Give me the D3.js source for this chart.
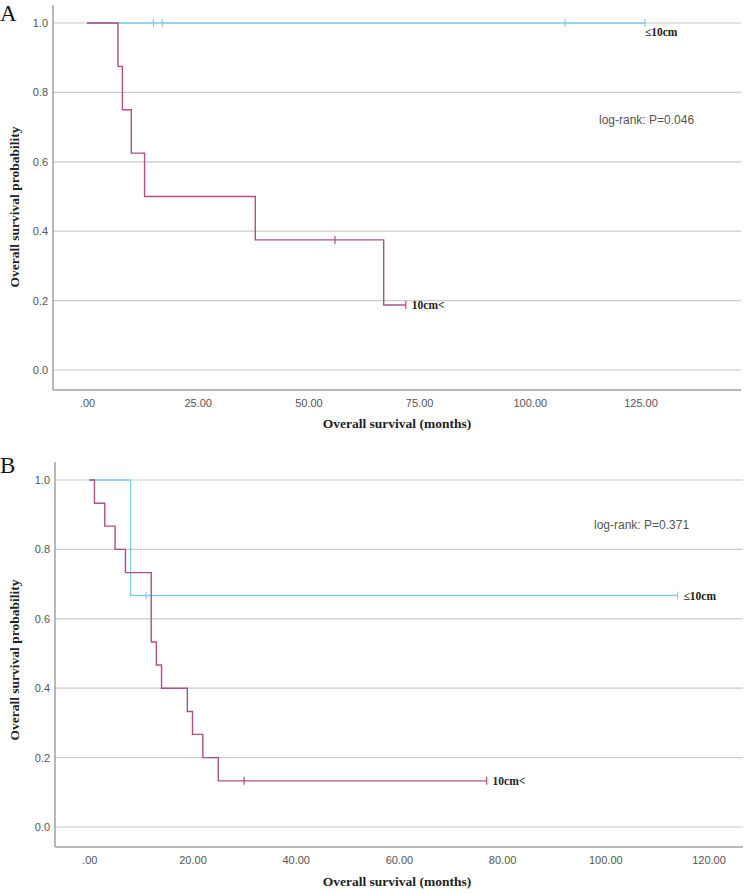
<!DOCTYPE html>
<html>
<head>
<meta charset="utf-8">
<script src="https://cdn.jsdelivr.net/npm/d3@7"></script>
<style>
  html, body { margin: 0; padding: 0; background: #fff; }
  svg { display: block; }
</style>
</head>
<body>
<svg id="chart" width="750" height="893"></svg>
<script>
// ---------------- Data ----------------
const yTicks = [0, 0.2, 0.4, 0.6, 0.8, 1.0];

// Panel A
const A_xTicks = [0, 25, 50, 75, 100, 125];
const A_large_time = [0, 7, 8, 10, 13, 38, 67, 72];
const A_large_surv = [1, 0.875, 0.75, 0.625, 0.5, 0.375, 0.1875, 0.1875];
const A_large_censor = [56, 72];
const A_small_time = [0, 126];
const A_small_surv = [1, 1];
const A_small_censor = [15, 17, 108, 126];
const A_pvalue = "log-rank: P=0.046";

// Panel B
const B_xTicks = [0, 20, 40, 60, 80, 100, 120];
const B_large_time = [0, 1, 3, 5, 7, 12, 13, 14, 19, 20, 22, 25, 77];
const B_large_surv = [1, 0.933, 0.867, 0.8, 0.733, 0.533, 0.467, 0.4, 0.333, 0.267, 0.2, 0.133, 0.133];
const B_large_censor = [30, 77];
const B_small_time = [0, 8, 114];
const B_small_surv = [1, 0.667, 0.667];
const B_small_censor = [11, 114];
const B_pvalue = "log-rank: P=0.371";

const labelSmall = "≤10cm";
const labelLarge = "10cm<";

const colSmall = "#84cceb";
const colLarge = "#ab5186";

const svg = d3.select("#chart");

function drawPanel(cfg) {
  const g = svg.append("g");
  const x = d3.scaleLinear().domain(cfg.xDomain).range(cfg.xRange);
  const y = d3.scaleLinear().domain([0, 1]).range(cfg.yRange);
  const left = cfg.axisLeft, right = cfg.axisRight, top = cfg.axisTop, bottom = cfg.axisBottom;

  // gridlines
  g.selectAll(".grid").data(yTicks).enter().append("line")
    .attr("x1", left).attr("x2", right)
    .attr("y1", d => y(d)).attr("y2", d => y(d))
    .attr("stroke", "#c9c9cf").attr("stroke-width", 1.2);

  // axis lines
  g.append("line").attr("x1", left).attr("x2", left).attr("y1", top).attr("y2", bottom)
    .attr("stroke", "#a0a0a0").attr("stroke-width", 1.5);
  g.append("line").attr("x1", left).attr("x2", right).attr("y1", bottom).attr("y2", bottom)
    .attr("stroke", "#a0a0a0").attr("stroke-width", 1.5);

  // y tick labels via d3 axis
  const yAxis = d3.axisLeft(y).tickValues(yTicks).tickFormat(d3.format(".1f")).tickSize(0).tickPadding(5);
  const ya = g.append("g").attr("transform", `translate(${left},0)`).call(yAxis);
  ya.select(".domain").remove();
  ya.selectAll("text").attr("font-family", "Liberation Sans, Arial, sans-serif")
    .attr("font-size", 11).attr("fill", "#555");

  // x tick labels
  const xAxis = d3.axisBottom(x).tickValues(cfg.xTicks)
    .tickFormat(d => d === 0 ? ".00" : d.toFixed(2)).tickSize(0).tickPadding(9);
  const xa = g.append("g").attr("transform", `translate(0,${bottom})`).call(xAxis);
  xa.select(".domain").remove();
  xa.selectAll("text").attr("font-family", "Liberation Sans, Arial, sans-serif")
    .attr("font-size", 11).attr("fill", "#555");

  const line = d3.line().x(d => x(d[0])).y(d => y(d[1])).curve(d3.curveStepAfter);

  function drawCurve(times, surv, censor, color) {
    const pts = times.map((t, i) => [t, surv[i]]);
    g.append("path").datum(pts).attr("d", line)
      .attr("fill", "none").attr("stroke", color).attr("stroke-width", 1.4);
    const survAt = t => {
      let s = 1;
      for (let i = 0; i < times.length; i++) if (times[i] <= t) s = surv[i];
      return s;
    };
    g.selectAll(null).data(censor).enter().append("line")
      .attr("x1", d => x(d)).attr("x2", d => x(d))
      .attr("y1", d => y(survAt(d)) - 4).attr("y2", d => y(survAt(d)) + 4)
      .attr("stroke", color).attr("stroke-width", 1.2);
  }

  drawCurve(cfg.small.time, cfg.small.surv, cfg.small.censor, colSmall);
  drawCurve(cfg.large.time, cfg.large.surv, cfg.large.censor, colLarge);

  // curve labels
  const lastSmall = cfg.small.time[cfg.small.time.length - 1];
  const lastLarge = cfg.large.time[cfg.large.time.length - 1];
  g.append("text").attr("x", x(lastSmall) + cfg.smallLabelDx).attr("y", y(cfg.small.surv[cfg.small.surv.length - 1]) + cfg.smallLabelDy)
    .attr("font-family", "Liberation Serif, Times New Roman, serif").attr("font-weight", "bold")
    .attr("font-size", 11.5).attr("fill", "#222").text(labelSmall);
  g.append("text").attr("x", x(lastLarge) + 6).attr("y", y(cfg.large.surv[cfg.large.surv.length - 1]) + 4.5)
    .attr("font-family", "Liberation Serif, Times New Roman, serif").attr("font-weight", "bold")
    .attr("font-size", 11.5).attr("fill", "#222").text(labelLarge);

  // p-value
  g.append("text").attr("x", cfg.pX).attr("y", cfg.pY)
    .attr("font-family", "Liberation Sans, Arial, sans-serif").attr("font-size", 12)
    .attr("fill", "#555").text(cfg.pvalue);

  // axis titles
  g.append("text").attr("x", 397).attr("y", cfg.xTitleY).attr("text-anchor", "middle")
    .attr("font-family", "Liberation Serif, Times New Roman, serif").attr("font-weight", "bold")
    .attr("font-size", 13.5).attr("fill", "#222").text("Overall survival (months)");
  g.append("text").attr("transform", `translate(19,${cfg.yTitleY}) rotate(-90)`).attr("text-anchor", "middle")
    .attr("font-family", "Liberation Serif, Times New Roman, serif").attr("font-weight", "bold")
    .attr("font-size", 13.5).attr("fill", "#222").text("Overall survival probability");

  // panel letter
  g.append("text").attr("x", 0).attr("y", cfg.letterY)
    .attr("font-family", "Liberation Serif, Times New Roman, serif")
    .attr("font-size", 23).attr("fill", "#111").text(cfg.letter);
}

drawPanel({
  letter: "A", letterY: 21,
  xDomain: [0, 125], xRange: [87, 640.5], yRange: [370, 23],
  axisLeft: 53, axisRight: 741, axisTop: 5, axisBottom: 390,
  xTicks: A_xTicks,
  small: { time: A_small_time, surv: A_small_surv, censor: A_small_censor },
  large: { time: A_large_time, surv: A_large_surv, censor: A_large_censor },
  smallLabelDx: 0, smallLabelDy: 13,
  pvalue: A_pvalue, pX: 599, pY: 124,
  xTitleY: 428, yTitleY: 207
});

drawPanel({
  letter: "B", letterY: 473,
  xDomain: [0, 120], xRange: [89.3, 708.5], yRange: [827, 480],
  axisLeft: 55, axisRight: 743, axisTop: 462, axisBottom: 847,
  xTicks: B_xTicks,
  small: { time: B_small_time, surv: B_small_surv, censor: B_small_censor },
  large: { time: B_large_time, surv: B_large_surv, censor: B_large_censor },
  smallLabelDx: 6, smallLabelDy: 4,
  pvalue: B_pvalue, pX: 594, pY: 529,
  xTitleY: 886, yTitleY: 660
});
</script>
</body>
</html>
